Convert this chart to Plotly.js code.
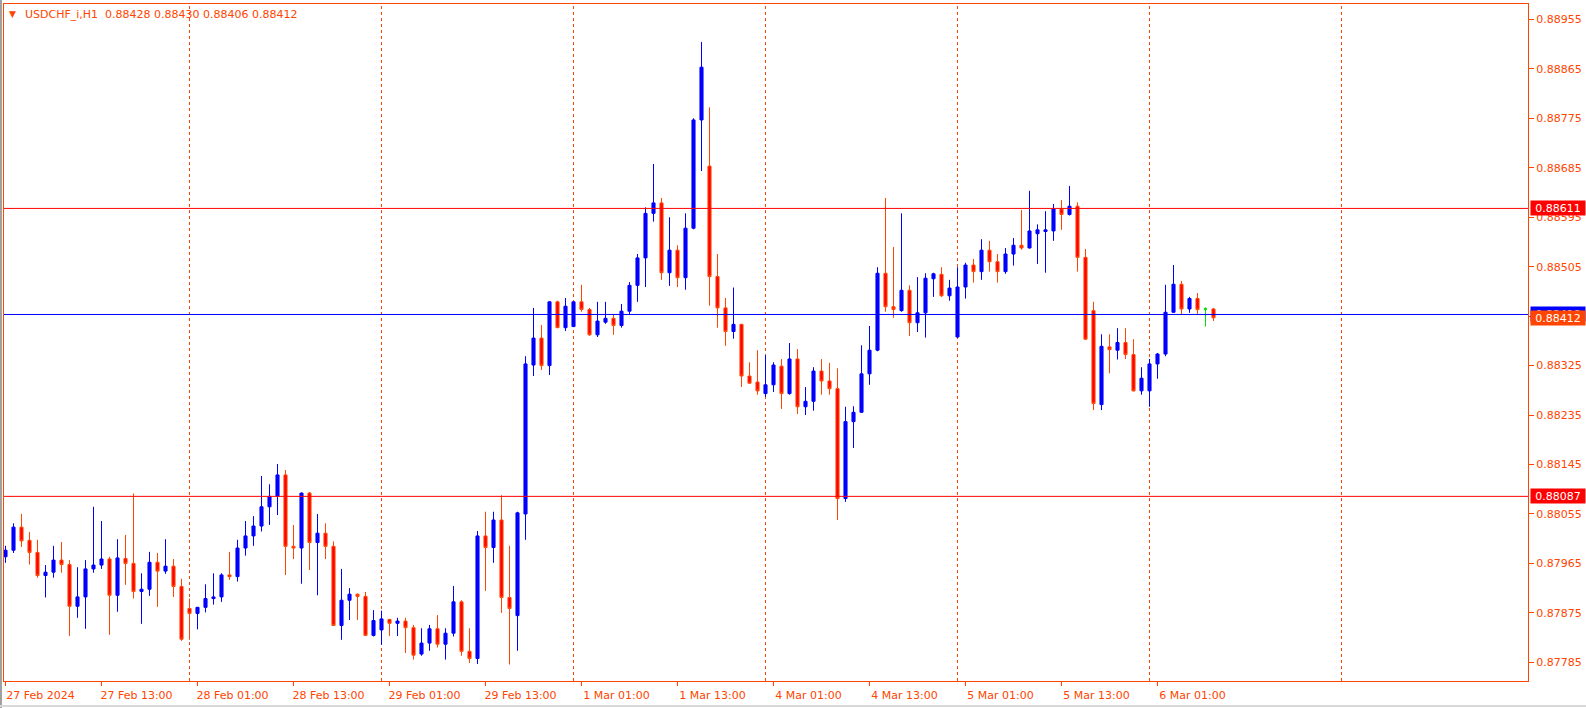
<!DOCTYPE html>
<html><head><meta charset="utf-8">
<script src="https://cdn.plot.ly/plotly-3.0.1.min.js"></script>
<style>
html,body{margin:0;padding:0;background:#fff;overflow:hidden}
#chart{width:1586px;height:708px;position:absolute;left:0;top:0}
#edgeL{position:absolute;left:0;top:0;width:2px;height:708px;background:#a0a0a0}
#edgeB{position:absolute;left:0;top:705px;width:1586px;height:2px;background:#d8d8d8}
</style>
</head><body><div id="chart"></div><div id="edgeL"></div><div id="edgeB"></div>
<script>
const symbol = 'USDCHF_i,H1';
const open = [0.87977,0.87989,0.88031,0.88007,0.87985,0.87943,0.87949,0.87971,0.87963,0.87887,
0.87904,0.87955,0.87962,0.87973,0.87907,0.87974,0.87965,0.87914,0.87918,0.87967,
0.87951,0.87960,0.87923,0.87883,0.87874,0.87885,0.87901,0.87904,0.87944,0.87941,
0.87993,0.88015,0.88033,0.88068,0.88087,0.88126,0.87996,0.87993,0.88093,0.88003,
0.88020,0.87996,0.87852,0.87898,0.87909,0.87905,0.87834,0.87844,0.87863,0.87856,
0.87860,0.87848,0.87800,0.87820,0.87846,0.87818,0.87838,0.87895,0.87805,0.87792,
0.88015,0.87994,0.88044,0.87903,0.87870,0.88055,0.88326,0.88375,0.88325,0.88441,
0.88394,0.88396,0.88441,0.88427,0.88381,0.88404,0.88411,0.88398,0.88424,0.88471,
0.88521,0.88602,0.88621,0.88494,0.88535,0.88485,0.88575,0.88772,0.88688,0.88487,
0.88430,0.88387,0.88400,0.88306,0.88295,0.88274,0.88290,0.88324,0.88274,0.88337,
0.88250,0.88260,0.88315,0.88297,0.88283,0.88083,0.88223,0.88240,0.88310,0.88353,
0.88493,0.88432,0.88425,0.88462,0.88403,0.88421,0.88483,0.88491,0.88452,0.88377,
0.88468,0.88508,0.88496,0.88535,0.88514,0.88496,0.88528,0.88544,0.88539,0.88565,
0.88569,0.88570,0.88610,0.88600,0.88615,0.88522,0.88425,0.88254,0.88359,0.88353,
0.88367,0.88345,0.88279,0.88279,0.88328,0.88346,0.88422,0.88473,0.88428,0.88447,
0.88428,0.88428];
const high = [0.87997,0.88038,0.88055,0.88022,0.88008,0.87962,0.87997,0.88004,0.87971,0.87958,
0.87971,0.88068,0.88042,0.87977,0.88009,0.88017,0.88092,0.87947,0.87986,0.87984,
0.88009,0.87973,0.87937,0.87901,0.87886,0.87927,0.87947,0.87947,0.87986,0.88008,
0.88042,0.88051,0.88124,0.88109,0.88146,0.88135,0.88035,0.88094,0.88095,0.88055,
0.88038,0.88005,0.87955,0.87920,0.87910,0.87913,0.87880,0.87879,0.87864,0.87866,
0.87866,0.87853,0.87847,0.87853,0.87871,0.87847,0.87924,0.87898,0.87847,0.88024,
0.88059,0.88059,0.88089,0.87997,0.88059,0.88342,0.88430,0.88399,0.88442,0.88443,
0.88448,0.88442,0.88472,0.88430,0.88441,0.88441,0.88419,0.88437,0.88477,0.88528,
0.88613,0.88692,0.88630,0.88595,0.88544,0.88602,0.88775,0.88914,0.88795,0.88528,
0.88448,0.88467,0.88401,0.88331,0.88353,0.88344,0.88331,0.88337,0.88366,0.88355,
0.88286,0.88322,0.88337,0.88330,0.88320,0.88250,0.88251,0.88362,0.88397,0.88504,
0.88630,0.88541,0.88602,0.88471,0.88486,0.88493,0.88494,0.88504,0.88481,0.88504,
0.88512,0.88519,0.88555,0.88552,0.88528,0.88539,0.88557,0.88608,0.88643,0.88582,
0.88606,0.88619,0.88626,0.88652,0.88622,0.88537,0.88441,0.88382,0.88382,0.88393,
0.88393,0.88373,0.88322,0.88337,0.88348,0.88472,0.88508,0.88479,0.88450,0.88457,
0.88431,0.88430];
const low = [0.87966,0.87984,0.87995,0.87963,0.87939,0.87903,0.87939,0.87948,0.87833,0.87866,
0.87846,0.87948,0.87955,0.87835,0.87877,0.87926,0.87901,0.87855,0.87906,0.87886,
0.87946,0.87904,0.87824,0.87826,0.87845,0.87876,0.87890,0.87895,0.87935,0.87932,
0.87979,0.87997,0.88023,0.88035,0.88053,0.87944,0.87973,0.87928,0.87953,0.87907,
0.87973,0.87851,0.87826,0.87862,0.87862,0.87833,0.87832,0.87817,0.87833,0.87833,
0.87802,0.87790,0.87797,0.87806,0.87812,0.87790,0.87832,0.87797,0.87784,0.87782,
0.87915,0.87966,0.87875,0.87781,0.87806,0.88008,0.88306,0.88317,0.88308,0.88393,
0.88388,0.88395,0.88423,0.88379,0.88377,0.88401,0.88381,0.88394,0.88418,0.88441,
0.88468,0.88587,0.88481,0.88470,0.88468,0.88463,0.88573,0.88679,0.88434,0.88394,
0.88361,0.88374,0.88286,0.88292,0.88272,0.88268,0.88277,0.88246,0.88272,0.88237,
0.88235,0.88243,0.88272,0.88272,0.88044,0.88077,0.88175,0.88239,0.88290,0.88351,
0.88423,0.88412,0.88423,0.88379,0.88386,0.88376,0.88450,0.88450,0.88443,0.88376,
0.88447,0.88476,0.88481,0.88496,0.88476,0.88492,0.88507,0.88536,0.88538,0.88510,
0.88494,0.88552,0.88572,0.88598,0.88496,0.88372,0.88244,0.88244,0.88311,0.88336,
0.88337,0.88278,0.88272,0.88250,0.88301,0.88342,0.88421,0.88417,0.88421,0.88419,
0.88396,0.88406];
const close = [0.87989,0.88031,0.88006,0.87985,0.87943,0.87949,0.87971,0.87963,0.87887,0.87904,
0.87955,0.87962,0.87973,0.87907,0.87975,0.87965,0.87914,0.87918,0.87967,0.87951,
0.87960,0.87923,0.87827,0.87874,0.87885,0.87901,0.87904,0.87944,0.87941,0.87993,
0.88015,0.88033,0.88068,0.88087,0.88126,0.87996,0.87993,0.88093,0.88003,0.88020,
0.87996,0.87852,0.87898,0.87909,0.87905,0.87834,0.87861,0.87864,0.87856,0.87860,
0.87848,0.87798,0.87820,0.87846,0.87818,0.87838,0.87895,0.87805,0.87792,0.88015,
0.87994,0.88044,0.87903,0.87883,0.88057,0.88328,0.88375,0.88325,0.88441,0.88394,
0.88433,0.88441,0.88427,0.88381,0.88406,0.88411,0.88398,0.88424,0.88471,0.88521,
0.88602,0.88621,0.88494,0.88535,0.88485,0.88575,0.88772,0.88868,0.88487,0.88430,
0.88387,0.88400,0.88306,0.88293,0.88279,0.88290,0.88326,0.88274,0.88337,0.88250,
0.88260,0.88315,0.88297,0.88283,0.88083,0.88223,0.88240,0.88310,0.88353,0.88493,
0.88432,0.88427,0.88462,0.88403,0.88421,0.88484,0.88492,0.88452,0.88466,0.88468,
0.88508,0.88496,0.88535,0.88514,0.88496,0.88528,0.88544,0.88539,0.88570,0.88572,
0.88572,0.88610,0.88600,0.88615,0.88522,0.88373,0.88256,0.88360,0.88354,0.88367,
0.88345,0.88279,0.88302,0.88328,0.88346,0.88422,0.88473,0.88428,0.88447,0.88427,
0.88428,0.88412];

// time axis: labels of the bars at 01:00 / 13:00, and bars that start a new day
const tickLabels = ['27 Feb 2024','27 Feb 13:00','28 Feb 01:00','28 Feb 13:00','29 Feb 01:00','29 Feb 13:00',
  '1 Mar 01:00','1 Mar 13:00','4 Mar 01:00','4 Mar 13:00','5 Mar 01:00','5 Mar 13:00','6 Mar 01:00'];
const tickBars = [0,12,24,36,48,60,72,84,96,108,120,132,144];
const dayStartBars = [23,47,71,95,119,143,167];
const priceTicks = [0.87785,0.87875,0.87965,0.88055,0.88145,0.88235,0.88325,0.88415,0.88505,0.88595,0.88685,0.88775,0.88865,0.88955];
const redLevels = [0.88611, 0.88087];
const blueLevel = 0.88418;

const ORANGE = '#FF4500';
const FONT = 'DejaVu Sans, Verdana, sans-serif';
const bars = open.map((_, i) => i);
const isDoji = open.map((o, i) => o === close[i]);
const pick = (arr, want) => arr.filter((_, i) => isDoji[i] === want);

const main = {
  type: 'candlestick',
  x: pick(bars, false), open: pick(open, false), high: pick(high, false), low: pick(low, false), close: pick(close, false),
  increasing: {line: {color: '#0000FF', width: 1}, fillcolor: '#0000FF'},
  decreasing: {line: {color: ORANGE, width: 1}, fillcolor: '#FF0000'},
  whiskerwidth: 0, hoverinfo: 'skip', showlegend: false
};
const doji = {
  type: 'candlestick',
  x: pick(bars, true), open: pick(open, true), high: pick(high, true), low: pick(low, true), close: pick(close, true),
  increasing: {line: {color: '#00E000', width: 1}, fillcolor: '#00E000'},
  decreasing: {line: {color: '#00E000', width: 1}, fillcolor: '#00E000'},
  whiskerwidth: 0, hoverinfo: 'skip', showlegend: false
};

const shapes = [];
dayStartBars.forEach(d => shapes.push({type: 'line', xref: 'x', yref: 'paper', x0: d, x1: d, y0: 0, y1: 1,
  line: {color: ORANGE, width: 1, dash: '3px,3px'}, layer: 'below'}));
redLevels.forEach(v => shapes.push({type: 'line', xref: 'paper', yref: 'y', x0: 0, x1: 1, y0: v, y1: v,
  line: {color: '#FF0000', width: 1}}));
shapes.push({type: 'line', xref: 'paper', yref: 'y', x0: 0, x1: 1, y0: blueLevel, y1: blueLevel,
  line: {color: '#0000FF', width: 1}});

const last = open.length - 1;
const f5 = v => v.toFixed(5);
const priceBox = (v, bg) => ({xref: 'paper', yref: 'y', x: 1, y: v, xanchor: 'left', yanchor: 'middle', xshift: 2,
  text: f5(v), showarrow: false, bgcolor: bg, width: 52, height: 12, borderpad: 1, align: 'center',
  font: {family: FONT, size: 11, color: '#FFFFFF'}});

const plotW = 1586 - 4 - 58, plotH = 708 - 4 - 27;
const annotations = [
  priceBox(redLevels[0], '#FF0000'),
  priceBox(redLevels[1], '#FF0000'),
  priceBox(blueLevel, '#0000FF'),
  priceBox(close[last], ORANGE),
  {xref: 'paper', yref: 'paper', x: (12.5 - 4) / plotW, y: 1 - (14 - 4) / plotH, xanchor: 'center', yanchor: 'middle',
   text: '▼', showarrow: false, font: {family: FONT, size: 9, color: ORANGE}},
  {xref: 'paper', yref: 'paper', x: (23 - 4) / plotW, y: 1 - (14 - 4) / plotH, xanchor: 'left', yanchor: 'middle',
   text: symbol + '\u00A0\u00A0' + [open[last], high[last], low[last], close[last]].map(f5).join(' '),
   showarrow: false, font: {family: FONT, size: 11, color: ORANGE}}
];

const layout = {
  width: 1586, height: 708,
  margin: {l: 4, r: 58, t: 4, b: 27, pad: 0},
  paper_bgcolor: '#FFFFFF', plot_bgcolor: '#FFFFFF',
  showlegend: false, boxgap: 0.45, dragmode: false,
  xaxis: {
    type: 'linear', range: [-0.1875, 190.3125], fixedrange: true,
    showgrid: false, zeroline: false, rangeslider: {visible: false},
    showline: true, mirror: true, linecolor: ORANGE, linewidth: 1,
    ticks: 'outside', ticklen: 4, tickcolor: ORANGE, tickwidth: 1,
    tickmode: 'array', tickvals: tickBars, ticktext: tickLabels, ticklabelshift: 35,
    tickfont: {family: FONT, size: 11, color: ORANGE}
  },
  yaxis: {
    side: 'right', range: [0.87751, 0.88983], fixedrange: true,
    showgrid: false, zeroline: false,
    showline: true, mirror: true, linecolor: ORANGE, linewidth: 1,
    ticks: 'outside', ticklen: 5, tickcolor: ORANGE, tickwidth: 1,
    tickmode: 'array', tickvals: priceTicks, ticktext: priceTicks.map(f5),
    tickfont: {family: FONT, size: 11, color: ORANGE}
  },
  shapes: shapes,
  annotations: annotations
};

Plotly.newPlot('chart', [main, doji], layout, {staticPlot: true, displayModeBar: false});
</script>
</body></html>
